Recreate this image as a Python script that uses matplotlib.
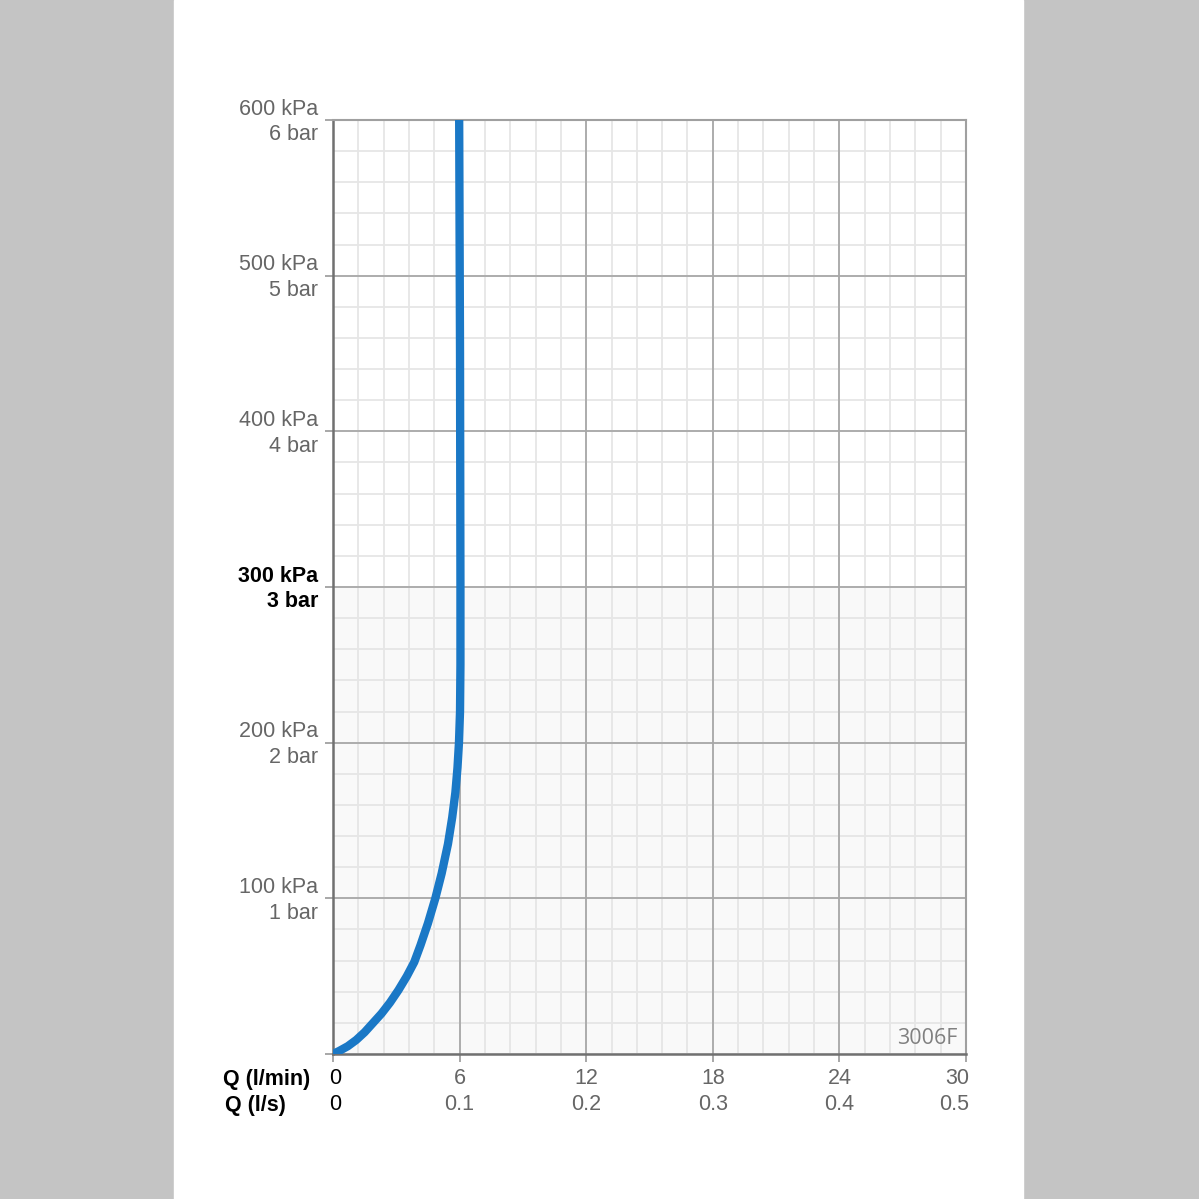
import numpy as np
import matplotlib.pyplot as plt
from matplotlib.transforms import blended_transform_factory

# flow (l/min) vs pressure (kPa)
flow = [0, 0.3, 0.7, 1.1, 1.5, 1.9, 2.3, 2.7, 3.1, 3.5, 3.85, 4.15, 4.5, 4.85,
        5.15, 5.45, 5.65, 5.8, 5.9, 5.97, 6.02, 6.04, 6.04, 6.02, 5.98]
pressure = [0, 2, 5, 9, 14, 20, 26, 33, 41, 50, 59, 70, 84, 100,
            116, 135, 152, 168, 184, 200, 220, 250, 300, 450, 600]

y_ticks = [100, 200, 300, 400, 500, 600]
y_kpa = ["100 kPa", "200 kPa", "300 kPa", "400 kPa", "500 kPa", "600 kPa"]
y_bar = ["1 bar", "2 bar", "3 bar", "4 bar", "5 bar", "6 bar"]
x_ticks = [0, 6, 12, 18, 24, 30]
x_lmin = ["0", "6", "12", "18", "24", "30"]
x_ls = ["0", "0.1", "0.2", "0.3", "0.4", "0.5"]

plt.rcParams['font.family'] = ['Liberation Sans', 'DejaVu Sans']

fig = plt.figure(figsize=(11.99, 11.99), dpi=100)
fig.patch.set_facecolor("#c4c4c4")
# white page in the middle
fig.add_artist(plt.Rectangle((174 / 1199, 0), (1023 - 174) / 1199, 1, color="white", zorder=0))

ax = fig.add_axes([333 / 1199, 1 - 1054 / 1199, (966 - 333) / 1199, (1054 - 120) / 1199])
ax.set_facecolor("white")
ax.set_xlim(0, 30)
ax.set_ylim(0, 600)
ax.axhspan(0, 300, color="#f9f9f9", zorder=0)

for x in np.arange(0, 30.01, 1.2):
    ax.axvline(x, color="#e6e6e6", lw=1.3, zorder=1)
for y in np.arange(0, 600.01, 20):
    ax.axhline(y, color="#e6e6e6", lw=1.3, zorder=1)
for x in x_ticks[1:-1]:
    ax.axvline(x, color="#a8a8a8", lw=1.3, zorder=2)
for y in y_ticks[:-1]:
    ax.axhline(y, color="#a8a8a8", lw=1.3, zorder=2)

ax.plot(flow, pressure, color="#1a78c6", lw=6, solid_capstyle="butt",
        solid_joinstyle="round", zorder=5)

for side in ["top", "right"]:
    ax.spines[side].set_color("#a0a0a0")
    ax.spines[side].set_linewidth(1.5)
for side in ["left", "bottom"]:
    ax.spines[side].set_color("#707070")
    ax.spines[side].set_linewidth(1.8)

ax.set_xticks(x_ticks)
ax.set_yticks([0] + y_ticks)
ax.set_xticklabels([])
ax.set_yticklabels([])
ax.tick_params(axis="both", length=6, width=1.3, color="#a0a0a0")

# y labels: kPa over bar
ytr = blended_transform_factory(fig.transFigure, ax.transData)
for y, k, b in zip(y_ticks, y_kpa, y_bar):
    bold = y == 300
    ax.text(318 / 1199, y - 1.3, k + "\n" + b, transform=ytr, ha="right", va="center",
            fontsize=15.5, linespacing=1.3, color="black" if bold else "#666666",
            fontweight="bold" if bold else "normal")

# x labels: two rows
xtr = blended_transform_factory(ax.transData, fig.transFigure)
for i, (x, a, b) in enumerate(zip(x_ticks, x_lmin, x_ls)):
    c = "black" if i == 0 else "#666666"
    ha = "center"
    xx = x
    if i == len(x_ticks) - 1:
        xx = x + 0.15
        ha = "right"
    elif i == 0:
        xx = 0.1
    ax.text(xx, 1 - 1079 / 1199, a, transform=xtr, ha=ha, va="center", fontsize=15.5, color=c)
    ax.text(xx, 1 - 1105 / 1199, b, transform=xtr, ha=ha, va="center", fontsize=15.5, color=c)

fig.text(310 / 1199, 1 - 1079 / 1199, "Q (l/min)", ha="right", va="center",
         fontsize=15.5, fontweight="bold")
fig.text(286 / 1199, 1 - 1105 / 1199, "Q (l/s)", ha="right", va="center",
         fontsize=15.5, fontweight="bold")

ax.text(29.6, 3.5, "3006F", ha="right", va="bottom", fontsize=15.5, color="#808080",
        family=["Open Sans", "DejaVu Sans"], zorder=6)

fig.savefig("out.png", dpi=100, facecolor=fig.get_facecolor())
